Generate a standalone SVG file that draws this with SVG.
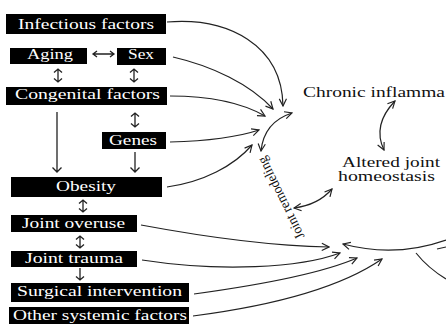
<svg xmlns="http://www.w3.org/2000/svg" width="446" height="324" viewBox="0 0 446 324">
<style>
.box{fill:#000}
.bt{fill:#fff;font-family:'Liberation Serif','DejaVu Serif','Times New Roman',serif;font-size:14px}
.rt{fill:#111;font-family:'Liberation Serif','DejaVu Serif','Times New Roman',serif;font-size:14px}
.c{fill:none;stroke:#222;stroke-width:1.2}
.ce{marker-end:url(#ah)}
.cb{marker-start:url(#ah);marker-end:url(#ah)}
.s{fill:none;stroke:#222;stroke-width:1.3}
</style>
<defs>
<marker id="ah" viewBox="0 0 10 10" refX="9" refY="5" markerWidth="9" markerHeight="9" markerUnits="userSpaceOnUse" orient="auto-start-reverse"><path d="M1,1 L9,5 L1,9" fill="none" stroke="#222" stroke-width="1.3"/></marker>
</defs>
<rect width="446" height="324" fill="#fff"/>

<g id="infectious"><rect class="box" x="6" y="14" width="160" height="20"/><text class="bt" x="18" y="28.5" textLength="136" lengthAdjust="spacingAndGlyphs">Infectious factors</text></g>
<g id="aging"><rect class="box" x="10" y="48" width="77" height="16"/><text class="bt" x="27" y="59" textLength="46" lengthAdjust="spacingAndGlyphs">Aging</text></g>
<g id="sex"><rect class="box" x="117" y="48" width="49" height="17"/><text class="bt" x="128" y="59" textLength="26" lengthAdjust="spacingAndGlyphs">Sex</text></g>
<g id="congenital"><rect class="box" x="6" y="87" width="161" height="18"/><text class="bt" x="15" y="99" textLength="145" lengthAdjust="spacingAndGlyphs">Congenital factors</text></g>
<g id="genes"><rect class="box" x="102" y="132" width="64" height="17"/><text class="bt" x="109" y="145" textLength="48" lengthAdjust="spacingAndGlyphs">Genes</text></g>
<g id="obesity"><rect class="box" x="11" y="177" width="151" height="20"/><text class="bt" x="56" y="191" textLength="60" lengthAdjust="spacingAndGlyphs">Obesity</text></g>
<g id="overuse"><rect class="box" x="11" y="215" width="126" height="17"/><text class="bt" x="22" y="228" textLength="103" lengthAdjust="spacingAndGlyphs">Joint overuse</text></g>
<g id="trauma"><rect class="box" x="11" y="251" width="126" height="16"/><text class="bt" x="25" y="263" textLength="98" lengthAdjust="spacingAndGlyphs">Joint trauma</text></g>
<g id="surgical"><rect class="box" x="11" y="283" width="178" height="19"/><text class="bt" x="17" y="296" textLength="165" lengthAdjust="spacingAndGlyphs">Surgical intervention</text></g>
<g id="systemic"><rect class="box" x="9" y="307" width="180" height="17"/><text class="bt" x="13" y="320" textLength="174" lengthAdjust="spacingAndGlyphs">Other systemic factors</text></g>

<g id="chronic"><text class="rt" x="303" y="97" textLength="142" lengthAdjust="spacingAndGlyphs">Chronic inflamma</text></g>
<g id="altered"><text class="rt" x="342" y="167" textLength="98" lengthAdjust="spacingAndGlyphs">Altered joint</text><text class="rt" x="338" y="181" textLength="97" lengthAdjust="spacingAndGlyphs">homeostasis</text></g>
<g id="remodeling"><text class="rt" font-size="13" text-anchor="middle" transform="translate(285,196) rotate(-116)" textLength="90" lengthAdjust="spacingAndGlyphs">Joint remodeling</text></g>

<g id="connectors">
<path class="s" d="M93,54 H114 M97,51 L93,54 L97,57 M110,51 L114,54 L110,57"/>
<path class="s" d="M58,69 V82 M54,72.5 L58,69 L62,72.5 M54,78.5 L58,82 L62,78.5"/>
<path class="s" d="M134,69 V82 M130,72.5 L134,69 L138,72.5 M130,78.5 L134,82 L138,78.5"/>
<path class="s" d="M135,113 V127 M131,116.5 L135,113 L139,116.5 M131,123.5 L135,127 L139,123.5"/>
<path class="s" d="M57,112 V172 M52.5,167.5 L57,172 L61.5,167.5"/>
<path class="s" d="M135,152 V172 M130.5,167.5 L135,172 L139.5,167.5"/>
<path class="s" d="M83,200 V212 M79,203.5 L83,200 L87,203.5 M79,208.5 L83,212 L87,208.5"/>
<path class="s" d="M80,236 V248 M76,239.5 L80,236 L84,239.5 M76,244.5 L80,248 L84,244.5"/>
<path class="s" d="M80,268 V280 M76,276.5 L80,280 L84,276.5"/>

<path class="c ce" d="M167,22 C228,17 282,45 283,106"/>
<path class="c ce" d="M173,57 C212,66 250,84 273,109"/>
<path class="c ce" d="M170,96 C212,96 244,104 265,116"/>
<path class="c ce" d="M170,142 C208,141 238,137 259,130"/>
<path class="c ce" d="M167,187 C203,182 234,166 252,145"/>
<path class="c cb" d="M292,113 Q264,122 261,151"/>
<path class="c cb" d="M395,101 Q372,125 384,150"/>
<path class="c cb" d="M332,189 Q318,205 294,208"/>

<path class="c ce" d="M141,225 C200,236 270,246 329,247"/>
<path class="c ce" d="M142,260 C220,272 300,268 340,253"/>
<path class="c ce" d="M194,294 C260,285 320,274 357,258"/>
<path class="c ce" d="M193,316 C270,306 340,288 382,259"/>
<path class="c" d="M446,240 Q395,258 343,244" marker-end="url(#ah)"/>
<path class="c" d="M437,249 L446,247"/>
<path class="c" d="M416,253 Q428,268 446,279"/>
</g>
</svg>
